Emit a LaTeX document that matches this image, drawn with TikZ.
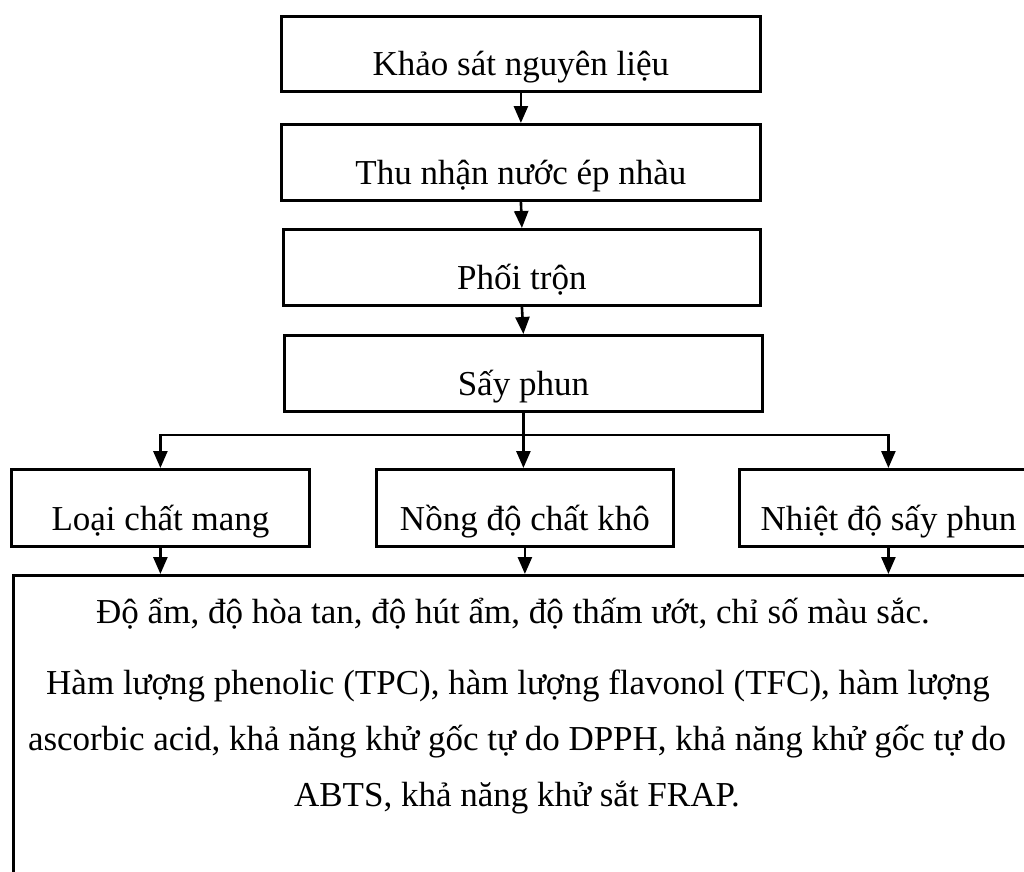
\documentclass[tikz,border=0pt]{standalone}
\usepackage{fontspec}
\setmainfont{Liberation Serif}
\usetikzlibrary{arrows.meta,calc}
\begin{document}
\begin{tikzpicture}[x=1pt,y=-1pt,
  box/.style={draw, line width=2.8pt, inner sep=0pt, anchor=north west},
  lbl/.style={anchor=base, inner sep=0pt, font=\fontsize{35}{42}\selectfont},
  arr/.style={line width=2.6pt, -{Triangle[length=17pt,width=14pt]}}]
\useasboundingbox (0,0) rectangle (1024,871);
\clip (0,0) rectangle (1024,871);

% process chain
\node[box, minimum width=479pt, minimum height=75pt] (b1) at (280,15) {};
\node[box, minimum width=479pt, minimum height=76pt] (b2) at (280,123) {};
\node[box, minimum width=477pt, minimum height=76pt] (b3) at (282,228) {};
\node[box, minimum width=478pt, minimum height=76pt] (b4) at (283,334) {};

\node[lbl] (t1) at ($(b1.south)+(0,-17)$) {Khảo sát nguyên liệu};
\node[lbl] (t2) at ($(b2.south)+(0,-17)$) {Thu nhận nước ép nhàu};
\node[lbl] (t3) at ($(b3.south)+(0,-17)$) {Phối trộn};
\node[lbl] (t4) at ($(b4.south)+(0,-17)$) {Sấy phun};

% factors
\node[box, minimum width=298pt, minimum height=77pt] (r1) at (10,468) {};
\node[box, minimum width=297pt, minimum height=77pt] (r2) at (375,468) {};
\node[box, minimum width=298pt, minimum height=77pt] (r3) at (738,468) {};

\node[lbl] (s1) at ($(r1.south)+(0,-17)$) {Loại chất mang};
\node[lbl] (s2) at ($(r2.south)+(0,-17)$) {Nồng độ chất khô};
\node[lbl] (s3) at ($(r3.south)+(0,-17)$) {Nhiệt độ sấy phun};

% evaluated properties
\node[box, minimum width=1030pt, minimum height=400pt] (bot) at (12,574) {};
\node[lbl] (p1) at (513,623) {Độ ẩm, độ hòa tan, độ hút ẩm, độ thấm ướt, chỉ số màu sắc.};
\node[lbl] (p2) at (518,694) {Hàm lượng phenolic (TPC), hàm lượng flavonol (TFC), hàm lượng};
\node[lbl] (p3) at (517,750) {ascorbic acid, khả năng khử gốc tự do DPPH, khả năng khử gốc tự do};
\node[lbl] (p4) at (517,806) {ABTS, khả năng khử sắt FRAP.};

% connectors
\draw[arr] (b1.south) -- (b2.north);
\draw[arr] (b2.south) -- (b3.north);
\draw[arr] (b3.south) -- (b4.north);
\draw[arr] (b4.south) -- (b4.south |- r2.north);
\coordinate (j) at ($(b4.south)+(0,22)$);
\draw[arr] (j) -| (r1.north);
\draw[arr] (j) -| (r3.north);
\draw[arr] (r1.south) -- (r1.south |- bot.north);
\draw[arr] (r2.south) -- (r2.south |- bot.north);
\draw[arr] (r3.south) -- (r3.south |- bot.north);
\end{tikzpicture}
\end{document}
